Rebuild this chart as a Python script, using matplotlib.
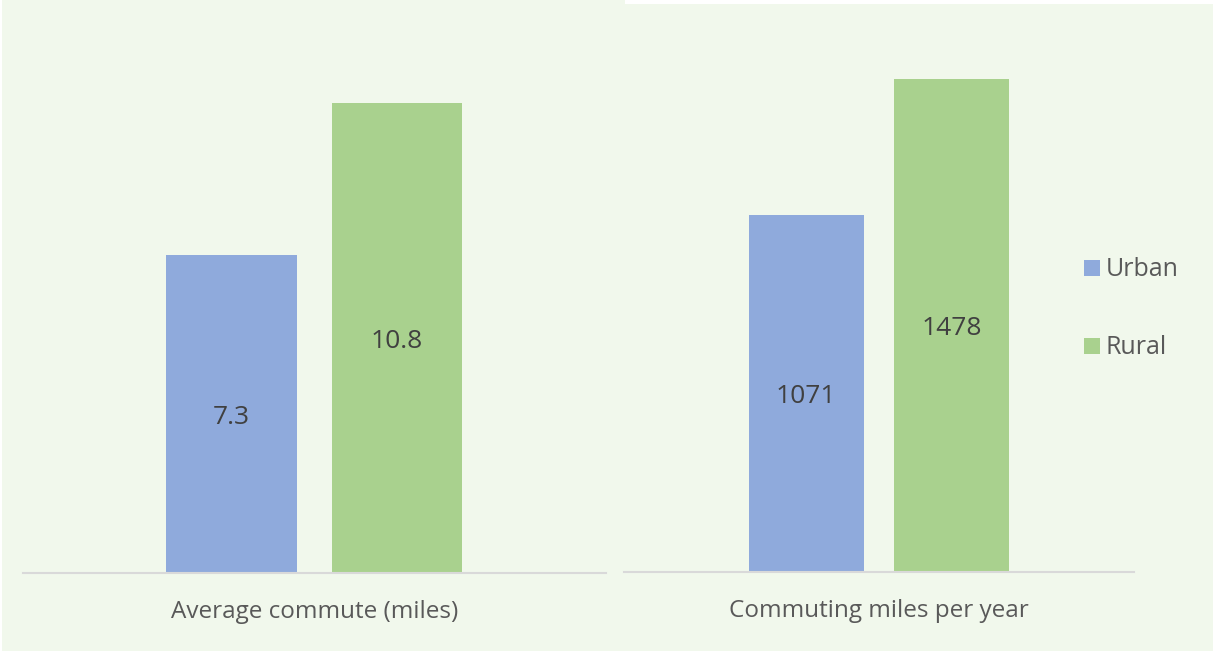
import matplotlib
matplotlib.use("Agg")
import matplotlib.pyplot as plt
from matplotlib.patches import Rectangle

series = ["Urban", "Rural"]
avg_commute = [7.3, 10.8]
miles_per_year = [1071, 1478]
panel_titles = ["Average commute (miles)", "Commuting miles per year"]
colors = ["#8faadc", "#a9d18e"]
bg = "#f1f8ec"
txt = "#595959"

W, H = 1213, 651
fig = plt.figure(figsize=(W / 100, H / 100), dpi=100)
fig.patch.set_facecolor("white")
plt.rcParams["font.family"] = ["Open Sans", "DejaVu Sans"]

def px(x0, y0, x1, y1):
    return [x0 / W, 1 - y1 / H, (x1 - x0) / W, (y1 - y0) / H]

# panel backgrounds
fig.patches.append(Rectangle((2 / W, 0), (625 - 2) / W, 1, transform=fig.transFigure,
                             facecolor=bg, edgecolor="none", zorder=-5))
fig.patches.append(Rectangle((625 / W, 0), (W - 625) / W, 1 - 4 / H, transform=fig.transFigure,
                             facecolor=bg, edgecolor="none", zorder=-5))

def panel(rect, values, ymax, xlim, title, fmt):
    ax = fig.add_axes(rect)
    ax.set_facecolor("none")
    ax.set_zorder(2)
    x = range(len(values))
    ax.bar(x, values, width=0.79, color=colors, zorder=2)
    ax.set_xlim(*xlim)
    ax.set_ylim(0, ymax)
    for s in ["top", "right", "left"]:
        ax.spines[s].set_visible(False)
    ax.spines["bottom"].set_color("#d9d9d9")
    ax.spines["bottom"].set_linewidth(1.5)
    ax.set_xticks([])
    ax.set_yticks([])
    for i, v in zip(x, values):
        ax.text(i, v / 2, fmt(v), ha="center", va="center_baseline", fontsize=19,
                color="#404040")
    ax.text(0.5, -45 / (rect[3] * H), title, transform=ax.transAxes, ha="center",
            va="baseline", fontsize=17.5, color=txt)
    return ax

panel(px(23, 51, 606, 573), avg_commute, 12, (-1.26, 2.263), panel_titles[0],
      lambda v: f"{v:.1f}")
panel(px(624, 38, 1134, 572), miles_per_year, 1600, (-1.251, 2.254), panel_titles[1],
      lambda v: f"{v:d}")

# legend
for name, col, yb in zip(series, colors, [276, 354]):
    fig.patches.append(Rectangle((1084 / W, 1 - yb / H), 16 / W, 16 / H,
                                 transform=fig.transFigure, facecolor=col, edgecolor="none"))
    fig.text(1106 / W, 1 - yb / H, name, ha="left", va="baseline", fontsize=18, color=txt)

fig.savefig("out.png", dpi=100, facecolor=fig.get_facecolor())
